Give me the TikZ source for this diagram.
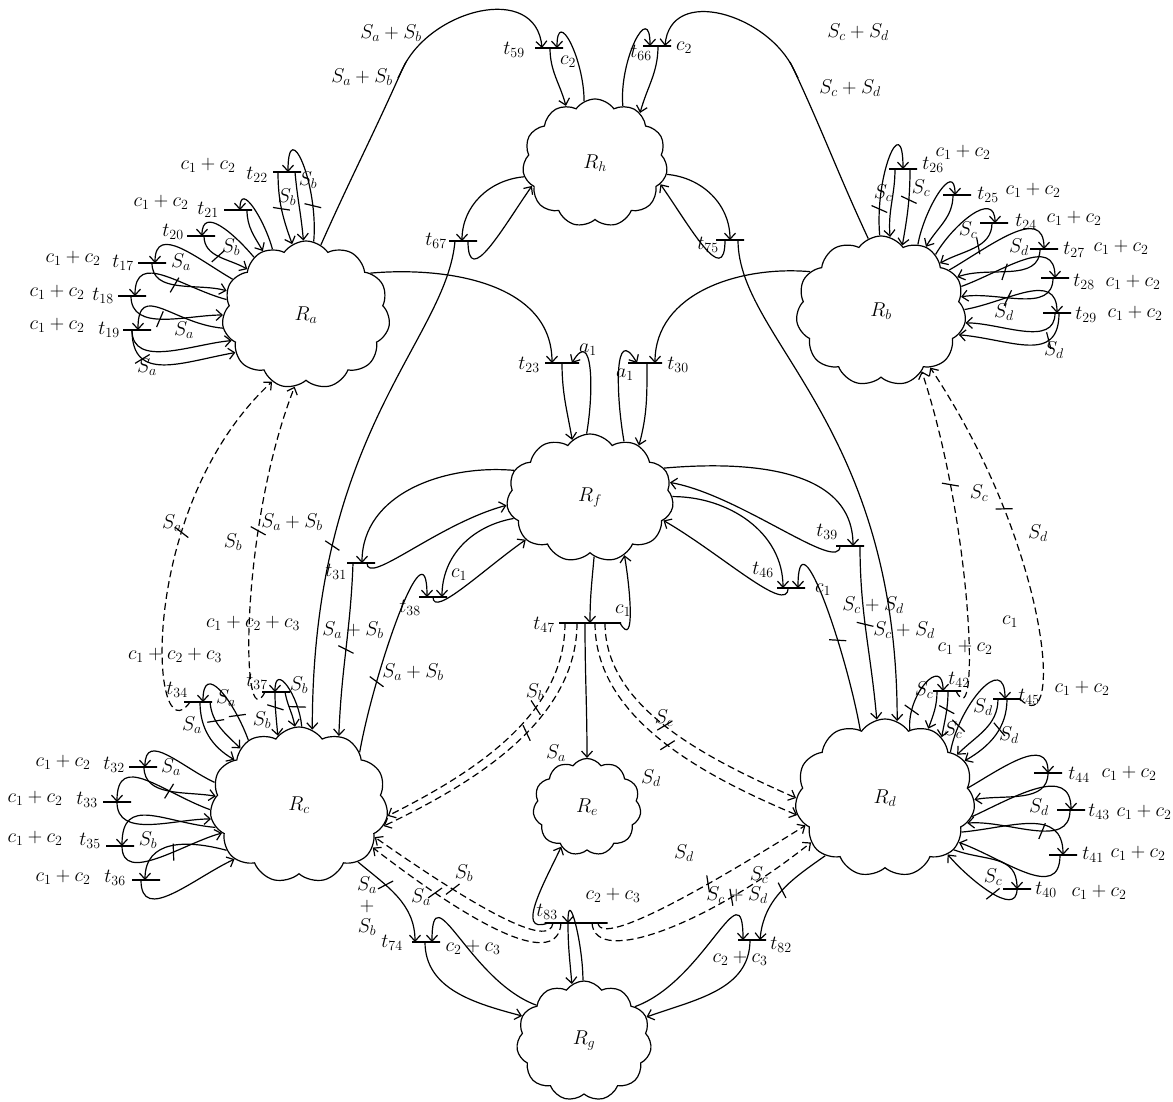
\RequirePackage{fix-cm}
\documentclass[tikz,border=0pt]{standalone}
\usepackage{tikz}
\usetikzlibrary{shapes.symbols,arrows.meta,decorations.markings}
\tikzstyle{region}=[cloud, draw, cloud puffs=11, cloud puff arc=110, cloud ignores aspect, inner sep=0pt]
\tikzstyle{trans}=[rectangle, draw, minimum width=28pt, minimum height=0pt, inner sep=0pt]
\tikzstyle{annot}=[align=center, inner sep=0pt]
\tikzstyle{flow}=[->]
\tikzstyle{dflow}=[->, dash pattern=on 7pt off 4pt]
\tikzset{tk/.style={postaction={decorate,decoration={markings,
  mark=at position #1 with {\draw[solid,-] (-3pt,-8pt) -- (3pt,8pt);}}}}}
\newcommand{\drawregions}[0]
{
  \node[region, minimum width=168pt, minimum height=148pt] (Ra) at (306,315) {$R_a$};
  \node[region, minimum width=145pt, minimum height=128pt] (Rh) at (595,163) {$R_h$};
  \node[region, minimum width=170pt, minimum height=150pt] (Rb) at (881,311) {$R_b$};
  \node[region, minimum width=167pt, minimum height=128pt] (Rf) at (590,498) {$R_f$};
  \node[region, minimum width=178pt, minimum height=156pt] (Rc) at (299,805) {$R_c$};
  \node[region, minimum width=108pt, minimum height=97pt] (Re) at (587,807) {$R_e$};
  \node[region, minimum width=180pt, minimum height=158pt] (Rd) at (885,798) {$R_d$};
  \node[region, minimum width=135pt, minimum height=120pt] (Rg) at (584,1041) {$R_g$};
}
\begin{document}
\begin{tikzpicture}[x=1pt, y=-1pt, line width=1.2pt, >={Straight Barb[length=6pt,width=11pt]}, font=\fontsize{20}{23}\selectfont]
	\useasboundingbox (0,0) rectangle (1173,1101);

	\drawregions{}

	% transitions
	\node[trans] (t22) at (287,172) {};
	\node[trans] (t21) at (238,210) {};
	\node[trans] (t20) at (201,236) {};
	\node[trans] (t17) at (152,263) {};
	\node[trans] (t18) at (132,296) {};
	\node[trans] (t19) at (137,330) {};
	\node[trans] (t59) at (549,48) {};
	\node[trans] (t66) at (657,46) {};
	\node[trans] (t67) at (463,241) {};
	\node[trans] (t75) at (730,240) {};
	\node[trans, minimum width=34pt] (t23) at (562,363) {};
	\node[trans, minimum width=34pt] (t30) at (645,363) {};
	\node[trans] (t26) at (903,169) {};
	\node[trans] (t25) at (957,195) {};
	\node[trans] (t24) at (994,223) {};
	\node[trans] (t27) at (1044,249) {};
	\node[trans] (t28) at (1055,278) {};
	\node[trans] (t29) at (1057,313) {};
	\node[trans] (t31) at (361,563) {};
	\node[trans] (t38) at (433,597) {};
	\node[trans, minimum width=62pt] (t47) at (590,623) {};
	\node[trans] (t46) at (791,588) {};
	\node[trans] (t39) at (850,546) {};
	\node[trans] (t34) at (198,702) {};
	\node[trans] (t37) at (276,692) {};
	\node[trans] (t32) at (143,767) {};
	\node[trans] (t33) at (117,802) {};
	\node[trans] (t35) at (120,846) {};
	\node[trans] (t36) at (146,880) {};
	\node[trans] (t74) at (426,942) {};
	\node[trans, minimum width=63pt] (t83) at (576,923) {};
	\node[trans] (t82) at (752,940) {};
	\node[trans] (t42) at (947,691) {};
	\node[trans] (t45) at (1007,699) {};
	\node[trans] (t44) at (1048,773) {};
	\node[trans] (t43) at (1071,810) {};
	\node[trans] (t41) at (1063,855) {};
	\node[trans] (t40) at (1017,889) {};

	\node[annot] (lt22) at (257,175) {$t_{22}$};
	\node[annot] (lt21) at (208,210) {$t_{21}$};
	\node[annot] (lt20) at (173,232) {$t_{20}$};
	\node[annot] (lt17) at (123,263) {$t_{17}$};
	\node[annot] (lt18) at (103,296) {$t_{18}$};
	\node[annot] (lt19) at (109,330) {$t_{19}$};
	\node[annot] (lt59) at (514,50) {$t_{59}$};
	\node[annot] (lt66) at (641,53) {$t_{66}$};
	\node[annot] (lt67) at (436,241) {$t_{67}$};
	\node[annot] (lt75) at (708,245) {$t_{75}$};
	\node[annot] (lt23) at (529,365) {$t_{23}$};
	\node[annot] (lt30) at (678,365) {$t_{30}$};
	\node[annot] (lt26) at (933,165) {$t_{26}$};
	\node[annot] (lt25) at (988,195) {$t_{25}$};
	\node[annot] (lt24) at (1026,222) {$t_{24}$};
	\node[annot] (lt27) at (1074,250) {$t_{27}$};
	\node[annot] (lt28) at (1084,282) {$t_{28}$};
	\node[annot] (lt29) at (1086,315) {$t_{29}$};
	\node[annot] (lt31) at (336,572) {$t_{31}$};
	\node[annot] (lt38) at (410,608) {$t_{38}$};
	\node[annot] (lt47) at (544,625) {$t_{47}$};
	\node[annot] (lt46) at (763,570) {$t_{46}$};
	\node[annot] (lt39) at (827,532) {$t_{39}$};
	\node[annot] (lt34) at (177,690) {$t_{34}$};
	\node[annot] (lt37) at (257,682) {$t_{37}$};
	\node[annot] (lt32) at (114,765) {$t_{32}$};
	\node[annot] (lt33) at (87,800) {$t_{33}$};
	\node[annot] (lt35) at (90,841) {$t_{35}$};
	\node[annot] (lt36) at (115,878) {$t_{36}$};
	\node[annot] (lt74) at (392,943) {$t_{74}$};
	\node[annot] (lt83) at (547,912) {$t_{83}$};
	\node[annot] (lt82) at (781,945) {$t_{82}$};
	\node[annot] (lt42) at (959,680) {$t_{42}$};
	\node[annot] (lt45) at (1029,697) {$t_{45}$};
	\node[annot] (lt44) at (1079,775) {$t_{44}$};
	\node[annot] (lt43) at (1099,812) {$t_{43}$};
	\node[annot] (lt41) at (1093,855) {$t_{41}$};
	\node[annot] (lt40) at (1046,890) {$t_{40}$};

	% guards
	\node[annot] (g22) at (208,165) {$c_1 + c_2$};
	\node[annot] (g21) at (161,202) {$c_1 + c_2$};
	\node[annot] (g17) at (73,258) {$c_1 + c_2$};
	\node[annot] (g18) at (57,292) {$c_1 + c_2$};
	\node[annot] (g19) at (57,325) {$c_1 + c_2$};
	\node[annot] (g59) at (568,62) {$c_2$};
	\node[annot] (g66) at (684,48) {$c_2$};
	\node[annot] (g23) at (588,350) {$a_1$};
	\node[annot] (g30) at (625,375) {$a_1$};
	\node[annot] (g26) at (963,152) {$c_1 + c_2$};
	\node[annot] (g25) at (1033,190) {$c_1 + c_2$};
	\node[annot] (g24) at (1074,218) {$c_1 + c_2$};
	\node[annot] (g27) at (1121,247) {$c_1 + c_2$};
	\node[annot] (g28) at (1133,282) {$c_1 + c_2$};
	\node[annot] (g29) at (1135,313) {$c_1 + c_2$};
	\node[annot] (g38) at (459,575) {$c_1$};
	\node[annot] (g47) at (623,611) {$c_1$};
	\node[annot] (g46) at (823,590) {$c_1$};
	\node[annot] (g34) at (175,655) {$c_1 + c_2 + c_3$};
	\node[annot] (g37) at (253,623) {$c_1 + c_2 + c_3$};
	\node[annot] (g32) at (63,762) {$c_1 + c_2$};
	\node[annot] (g33) at (35,798) {$c_1 + c_2$};
	\node[annot] (g35) at (35,838) {$c_1 + c_2$};
	\node[annot] (g36) at (63,877) {$c_1 + c_2$};
	\node[annot] (g74) at (473,947) {$c_2 + c_3$};
	\node[annot] (g83) at (613,895) {$c_2 + c_3$};
	\node[annot] (g82) at (740,958) {$c_2 + c_3$};
	\node[annot] (g42) at (965,647) {$c_1 + c_2$};
	\node[annot] (g45a) at (1010,622) {$c_1$};
	\node[annot] (g45) at (1082,688) {$c_1 + c_2$};
	\node[annot] (g44) at (1129,773) {$c_1 + c_2$};
	\node[annot] (g43) at (1144,812) {$c_1 + c_2$};
	\node[annot] (g41) at (1138,853) {$c_1 + c_2$};
	\node[annot] (g40) at (1099,892) {$c_1 + c_2$};

	% arc labels
	\node[annot] (w1) at (391,33) {$S_a + S_b$};
	\node[annot] (w2) at (362,77) {$S_a + S_b$};
	\node[annot] (w3) at (858,32) {$S_c + S_d$};
	\node[annot] (w4) at (850,88) {$S_c + S_d$};
	\node[annot] (w5) at (308,180) {$S_b$};
	\node[annot] (w6) at (287,197) {$S_b$};
	\node[annot] (w7) at (231,247) {$S_b$};
	\node[annot] (w8) at (181,262) {$S_a$};
	\node[annot] (w9) at (184,330) {$S_a$};
	\node[annot] (w10) at (147,367) {$S_a$};
	\node[annot] (w11) at (292,522) {$S_a + S_b$};
	\node[annot] (w12) at (353,630) {$S_a + S_b$};
	\node[annot] (w13) at (413,672) {$S_a + S_b$};
	\node[annot] (w14) at (873,605) {$S_c + S_d$};
	\node[annot] (w15) at (904,630) {$S_c + S_d$};
	\node[annot] (w16) at (172,523) {$S_a$};
	\node[annot] (w17) at (233,542) {$S_b$};
	\node[annot] (w18) at (979,493) {$S_c$};
	\node[annot] (w19) at (1038,533) {$S_d$};
	\node[annot] (w20) at (535,692) {$S_b$};
	\node[annot] (w21) at (556,753) {$S_a$};
	\node[annot] (w22) at (664,718) {$S_c$};
	\node[annot] (w23) at (651,778) {$S_d$};
	\node[annot] (w24) at (464,873) {$S_b$};
	\node[annot] (w25) at (421,897) {$S_a$};
	\node[annot] (w26) at (684,853) {$S_d$};
	\node[annot] (w27) at (759,875) {$S_c$};
	\node[annot] (w28) at (737,895) {$S_c + S_d$};
	\node[annot] (w29) at (367,906) {$S_a$\\[-2pt]$+$\\[-2pt]$S_b$};
	\node[annot] (w30) at (883,193) {$S_c$};
	\node[annot] (w31) at (921,188) {$S_c$};
	\node[annot] (w32) at (968,230) {$S_c$};
	\node[annot] (w33) at (1019,247) {$S_d$};
	\node[annot] (w34) at (1004,312) {$S_d$};
	\node[annot] (w35) at (1054,350) {$S_d$};
	\node[annot] (w36) at (226,698) {$S_a$};
	\node[annot] (w37) at (192,725) {$S_a$};
	\node[annot] (w38) at (299,685) {$S_b$};
	\node[annot] (w39) at (262,720) {$S_b$};
	\node[annot] (w40) at (171,767) {$S_a$};
	\node[annot] (w41) at (148,840) {$S_b$};
	\node[annot] (w42) at (924,690) {$S_c$};
	\node[annot] (w43) at (953,730) {$S_c$};
	\node[annot] (w44) at (983,707) {$S_d$};
	\node[annot] (w45) at (1009,735) {$S_d$};
	\node[annot] (w46) at (1039,807) {$S_d$};
	\node[annot] (w47) at (993,877) {$S_c$};

	\coordinate (ka) at (402,70);
	\coordinate (kb) at (794,70);

	% region a
	\draw[flow, tk=0.3] (Ra.84) to[out=85,in=90,looseness=2] ([xshift=1pt]t22.center);
	\draw[flow, tk=0.5] ([xshift=-9pt]t22.center) to[out=-90,in=110] (Ra.101);
	\draw[flow] ([xshift=8pt]t22.center) to[out=-85,in=95] (Ra.92);
	\draw[flow] (Ra.117) to[out=105,in=90,looseness=1.5] ([xshift=2pt]t21.center);
	\draw[flow] ([xshift=9pt]t21.center) to[out=-90,in=120] (Ra.124);
	\draw[flow] (Ra.132) to[out=130,in=90,looseness=1.4] ([xshift=1pt]t20.center);
	\draw[flow, tk=0.45] ([xshift=3pt]t20.center) to[out=-90,in=150] (Ra.142);
	\draw[flow] (Ra.154) to[out=150,in=90,looseness=1.3] ([xshift=3pt]t17.center);
	\draw[flow, tk=0.4] (t17.center) to[out=-90,in=165] (Ra.163);
	\draw[flow] (Ra.169) to[out=165,in=90,looseness=1.3] ([xshift=3pt]t18.center);
	\draw[flow, tk=0.4] ([xshift=-1pt]t18.center) to[out=-90,in=180] (Ra.180);
	\draw[flow] (Ra.189) to[out=175,in=90,looseness=1.5] ([xshift=1pt]t19.center);
	\draw[flow] ([xshift=-5pt]t19.center) to[out=-90,in=185] (Ra.199);
	\draw[flow, tk=0.25] ([xshift=-5pt]t19.center) to[out=-90,in=190,looseness=1.3] (Ra.208);

	% region h
	\draw[flow] (Ra.78) to[out=66,in=246] (ka) to[out=66,in=95,looseness=1.2] ([xshift=-7pt]t59.center);
	\draw[flow] ([xshift=1pt]t59.center) to[out=-90,in=105] (Rh.117);
	\draw[flow] (Rh.100) to[out=90,in=90,looseness=1.8] ([xshift=8pt]t59.center);
	\draw[flow] (Rh.64) to[out=95,in=90,looseness=1.8] ([xshift=-7pt]t66.center);
	\draw[flow] ([xshift=1pt]t66.center) to[out=-90,in=75] (Rh.48);
	\draw[flow] (Rb.100) to[out=115,in=-65] (kb) to[out=115,in=85,looseness=1.2] ([xshift=8pt]t66.center);
	\draw (ka) +(-4pt,-8pt) -- +(4pt,8pt);
	\draw (kb) +(4pt,-8pt) -- +(-4pt,8pt);
	\draw[flow] (Rh.191) to[out=185,in=90] ([xshift=-1pt]t67.center);
	\draw[flow] ([xshift=5pt]t67.center) to[out=-90,in=235,looseness=1.5] (Rh.200);
	\draw[flow, tk=0.64] ([xshift=-8pt]t67.center) to[out=-95,in=90,out looseness=0.5,in looseness=1.5] (Rc.80);
	\draw[flow] (Rh.351) to[out=-5,in=90] (t75.center);
	\draw[flow] ([xshift=-5pt]t75.center) to[out=-90,in=-55,looseness=1.5] (Rh.342);
	\draw[flow] ([xshift=8pt]t75.center) to[out=-90,in=90,out looseness=0.5,in looseness=1.5] (Rd.81);

	% region f
	\draw[flow] (Ra.33) to[out=5,in=90] ([xshift=-10pt]t23.center);
	\draw[flow] (t23.center) to[out=-90,in=100] (Rf.107);
	\draw[flow] (Rf.93) to[out=80,in=60,looseness=1.5] ([xshift=10pt]t23.center);
	\draw[flow] (Rb.151) to[out=175,in=90] ([xshift=10pt]t30.center);
	\draw[flow] ([xshift=2pt]t30.center) to[out=-90,in=75] (Rf.47);
	\draw[flow] (Rf.59) to[out=100,in=120,looseness=1.5] ([xshift=-8pt]t30.center);
	\draw[flow] (Rf.160) to[out=175,in=90] ([xshift=1pt]t31.center);
	\draw[flow] ([xshift=6pt]t31.center) to[out=-90,in=195,out looseness=0.4,in looseness=1.2] (Rf.185);
	\draw[flow, tk=0.5] ([xshift=-8pt]t31.center) to[out=-92,in=88] (Rc.60);
	\draw[flow, tk=0.34] (Rc.41) to[out=80,in=90,looseness=1.2] ([xshift=-6pt]t38.center);
	\draw[flow] (Rf.195) to[out=190,in=90] ([xshift=9pt]t38.center);
	\draw[flow] (t38.center) to[out=-90,in=215,out looseness=0.5,in looseness=1.2] (Rf.213);
	\draw[flow] (Rf.22) to[out=5,in=90] ([xshift=3pt]t39.center);
	\draw[flow] ([xshift=-10pt]t39.center) to[out=-90,in=-10,out looseness=0.4] (Rf.11);
	\draw[flow, tk=0.45] ([xshift=10pt]t39.center) to[out=-90,in=95] (Rd.96);
	\draw[flow, tk=0.46] (Rd.110) to[out=100,in=90,looseness=1.3] ([xshift=7pt]t46.center);
	\draw[flow] (Rf.1) to[out=0,in=90] ([xshift=-8pt]t46.center);
	\draw[flow] ([xshift=-3pt]t46.center) to[out=-90,in=-30,out looseness=0.5,in looseness=1.2] (Rf.-17);
	\draw[flow] (Rf.-86) to[out=-95,in=90] (t47.center);
	\draw[flow] ([xshift=30pt]t47.center) to[out=-60,in=-80,looseness=1.2] (Rf.-59);
	\draw[flow] ([xshift=-5pt]t47.center) to[out=-90,in=90] (Re.90);
	\draw[dflow, tk=0.33] ([xshift=-25pt]t47.center) .. controls +(0,90) and +(90,-45) .. (Rc.-7);
	\draw[dflow, tk=0.42] ([xshift=-13pt]t47.center) .. controls +(0,95) and +(95,-45) .. (Rc.-14);
	\draw[dflow, tk=0.45] ([xshift=15pt]t47.center) .. controls +(0,85) and +(-90,-40) .. (Rd.180);
	\draw[dflow, tk=0.5] ([xshift=5pt]t47.center) .. controls +(0,95) and +(-95,-40) .. (Rd.191);

	% region g
	\draw[flow] ([xshift=-28pt]t83.center) to[out=200,in=245,looseness=1.2] (Re.237);
	\draw[flow] (Rg.91) to[out=90,in=90,looseness=1.6] ([xshift=-8pt]t83.center);
	\draw[flow] ([xshift=-8pt]t83.center) to[out=-90,in=95] (Rg.102);
	\draw[dflow, tk=0.55] ([xshift=-23pt]t83.center) .. controls +(-3,27) and +(100,70) .. (Rc.-23);
	\draw[dflow, tk=0.66] ([xshift=-15pt]t83.center) .. controls +(-3,45) and +(110,85) .. (Rc.-30);
	\draw[dflow, tk=0.52] ([xshift=22pt]t83.center) .. controls +(3,27) and +(-80,50) .. (Rd.199);
	\draw[dflow, tk=0.62] ([xshift=16pt]t83.center) .. controls +(3,45) and +(-100,80) .. (Rd.211);
	\draw[flow, tk=0.35] (Rc.-44) to[out=-40,in=90] ([xshift=-11pt]t74.center);
	\draw[flow] (Rg.143) to[out=160,in=90,looseness=1.5] ([xshift=6pt]t74.center);
	\draw[flow] ([xshift=-1pt]t74.center) to[out=-90,in=165] (Rg.158);
	\draw[flow, tk=0.5] (Rd.224) to[out=215,in=85] ([xshift=8pt]t82.center);
	\draw[flow] (Rg.34) to[out=20,in=90,looseness=1.5] ([xshift=-9pt]t82.center);
	\draw[flow] ([xshift=-2pt]t82.center) to[out=-90,in=20] (Rg.21);

	% region b
	\draw[flow, tk=0.22] (Rb.91) to[out=95,in=90,looseness=2.2] (t26.center);
	\draw[flow] ([xshift=-8pt]t26.center) to[out=-90,in=95] (Rb.83);
	\draw[flow, tk=0.4] ([xshift=7pt]t26.center) to[out=-90,in=80] (Rb.72);
	\draw[flow] (Rb.61) to[out=80,in=90,looseness=1.5] ([xshift=-2pt]t25.center);
	\draw[flow] ([xshift=-4pt]t25.center) to[out=-90,in=60] (Rb.55);
	\draw[flow] (Rb.46) to[out=60,in=90,looseness=1.3] ([xshift=1pt]t24.center);
	\draw[flow, tk=0.4] ([xshift=-2pt]t24.center) to[out=-90,in=30] (Rb.39);
	\draw[flow] (Rb.31) to[out=30,in=90,looseness=1.2] (t27.center);
	\draw[flow, tk=0.5] ([xshift=-4pt]t27.center) to[out=-90,in=20] (Rb.24);
	\draw[flow] (Rb.17) to[out=20,in=90,looseness=1.2] (t28.center);
	\draw[flow, tk=0.55] ([xshift=-2pt]t28.center) to[out=-90,in=10] (Rb.10);
	\draw[flow] (Rb.1) to[out=10,in=90,looseness=1.2] (t29.center);
	\draw[flow] ([xshift=-2pt]t29.center) to[out=-90,in=0] (Rb.-8);
	\draw[flow, tk=0.25] ([xshift=2pt]t29.center) to[out=-90,in=-5,looseness=1.3] (Rb.-17);

	% region c
	\draw[flow, tk=0.3] (Rc.128) to[out=110,in=90,looseness=1.8] ([xshift=5pt]t34.center);
	\draw[flow] ([xshift=2pt]t34.center) to[out=-90,in=150] (Rc.145);
	\draw[flow, tk=0.35] ([xshift=12pt]t34.center) to[out=-85,in=135] (Rc.136);
	\draw[flow, tk=0.3] (Rc.88) to[out=95,in=90,looseness=1.8] ([xshift=-1pt]t37.center);
	\draw[flow, tk=0.35] ([xshift=-1pt]t37.center) to[out=-90,in=95] (Rc.107);
	\draw[flow] ([xshift=9pt]t37.center) to[out=-80,in=100] (Rc.93);
	\draw[flow] (Rc.165) to[out=155,in=90,looseness=1.3] ([xshift=2pt]t32.center);
	\draw[flow, tk=0.45] ([xshift=1pt]t32.center) to[out=-90,in=170] (Rc.174);
	\draw[flow] (Rc.183) to[out=160,in=90,looseness=1.4] (t33.center);
	\draw[flow] (t33.center) to[out=-90,in=180] (Rc.189);
	\draw[flow] (Rc.195) to[out=175,in=90,looseness=1.4] ([xshift=2pt]t35.center);
	\draw[flow, tk=0.55] ([xshift=2pt]t35.center) to[out=-90,in=195] (Rc.200);
	\draw[flow] (Rc.212) to[out=165,in=90,looseness=1.2] ([xshift=-1pt]t36.center);
	\draw[flow] ([xshift=-5pt]t36.center) to[out=-90,in=205,looseness=1.2] (Rc.220);
	\draw[dflow, tk=0.53] ([xshift=-8pt]t34.center) .. controls +(-40,58) and +(-137,127) .. (Ra.243);
	\draw[dflow, tk=0.55] ([xshift=-11pt]t37.center) .. controls +(-25,50) and +(-55,140) .. (Ra.261);

	% region d
	\draw[flow, tk=0.25] (Rd.70) to[out=95,in=90,looseness=1.8] ([xshift=-4pt]t42.center);
	\draw[flow] ([xshift=-10pt]t42.center) to[out=-90,in=70] (Rd.58);
	\draw[flow, tk=0.4] ([xshift=1pt]t42.center) to[out=-90,in=80] (Rd.47);
	\draw[flow, tk=0.25] (Rd.35) to[out=80,in=90,looseness=1.6] ([xshift=-2pt]t45.center);
	\draw[flow] ([xshift=-9pt]t45.center) to[out=-90,in=45] (Rd.31);
	\draw[flow, tk=0.4] (t45.center) to[out=-90,in=30] (Rd.25);
	\draw[flow] (Rd.7) to[out=30,in=90,looseness=1.2] (t44.center);
	\draw[flow] (t44.center) to[out=-90,in=10] (Rd.-1);
	\draw[flow] (Rd.-12) to[out=25,in=90,looseness=1.2] (t43.center);
	\draw[flow, tk=0.35] ([xshift=-1pt]t43.center) to[out=-90,in=5] (Rd.-17);
	\draw[flow] (Rd.-24) to[out=5,in=90,looseness=1.2] (t41.center);
	\draw[flow] ([xshift=-3pt]t41.center) to[out=-90,in=-20,looseness=1.2] (Rd.-31);
	\draw[flow] (Rd.-37) to[out=-20,in=90,looseness=1.2] (t40.center);
	\draw[flow, tk=0.35] (t40.center) to[out=-90,in=-50] (Rd.-42);
	\draw[dflow, tk=0.66] ([xshift=9pt]t42.center) .. controls +(25,50) and +(50,150) .. (Rb.-56);
	\draw[dflow, tk=0.58] ([xshift=13pt]t45.center) .. controls +(45,45) and +(120,180) .. (Rb.-49);

\end{tikzpicture}
\end{document}
